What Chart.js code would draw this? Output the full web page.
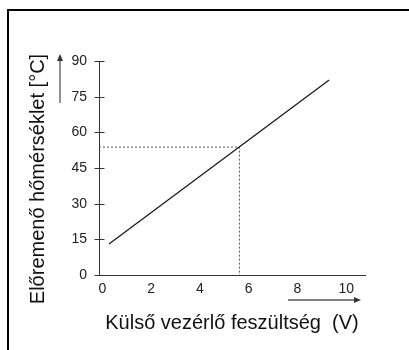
<!DOCTYPE html>
<html>
<head>
<meta charset="utf-8">
<script src="https://cdn.jsdelivr.net/npm/chart.js@4"></script>
<style>
    html, body { margin: 0; padding: 0; background: #fff; }
    #wrap { position: relative; width: 409px; height: 350px; overflow: hidden; }
    #frame {
        position: absolute; left: 7px; top: 9px; right: -5px; bottom: -5px;
        border-left: 2px solid #000; border-top: 2px solid #000;
        pointer-events: none;
    }
</style>
</head>
<body>
<div id="wrap">
    <canvas id="myChart" width="409" height="350"></canvas>
    <div id="frame"></div>
</div>
<script>
// line: supply temperature vs external control voltage
const voltage = [0.27, 9.3];
const temperature = [13, 82];

// dotted reading guide
const markVoltage = 5.62;
const markTemp = 53.8;

const xTicks = [0, 2, 4, 6, 8, 10];
const yTicks = [0, 15, 30, 45, 60, 75, 90];

const xTitle = "Külső vezérlő feszültség  (V)";
const yTitle = "Előremenő hőmérséklet [°C]";

const font = "'Liberation Sans', Arial, sans-serif";

const lineData = voltage.map((v, i) => ({ x: v, y: temperature[i] }));

// extras: crossing y ticks, arrows, rotated y title
const extras = {
    id: "extras",
    afterDraw(chart) {
        const ctx = chart.ctx;
        const xs = chart.scales.x;
        const ys = chart.scales.y;
        ctx.save();

        // y tick marks crossing the axis
        ctx.strokeStyle = "#333";
        ctx.lineWidth = 1;
        const ax = Math.round(xs.left) + 0.5;
        yTicks.forEach(t => {
            const py = Math.round(ys.getPixelForValue(t)) + 0.5;
            ctx.beginPath();
            ctx.moveTo(ax - 5, py);
            ctx.lineTo(ax + 5, py);
            ctx.stroke();
        });

        // arrows
        ctx.strokeStyle = "#555";
        ctx.fillStyle = "#333";
        ctx.lineWidth = 1.3;
        // vertical arrow beside the y title
        ctx.beginPath();
        ctx.moveTo(60, 103);
        ctx.lineTo(60, 58);
        ctx.stroke();
        ctx.beginPath();
        ctx.moveTo(60, 54);
        ctx.lineTo(57, 61);
        ctx.lineTo(63, 61);
        ctx.closePath();
        ctx.fill();
        // horizontal arrow over the x title
        ctx.beginPath();
        ctx.moveTo(288, 300);
        ctx.lineTo(356, 300);
        ctx.stroke();
        ctx.beginPath();
        ctx.moveTo(361, 300);
        ctx.lineTo(354, 297);
        ctx.lineTo(354, 303);
        ctx.closePath();
        ctx.fill();

        // y title
        ctx.translate(38, 179);
        ctx.rotate(-Math.PI / 2);
        ctx.fillStyle = "#111";
        ctx.font = "20px " + font;
        ctx.textAlign = "center";
        ctx.textBaseline = "middle";
        ctx.fillText(yTitle, 0, 0);
        ctx.restore();
    }
};

const config = {
    type: "scatter",
    data: {
        datasets: [
            {
                data: lineData,
                showLine: true,
                borderColor: "#1a1a1a",
                borderWidth: 1.3,
                pointRadius: 0
            },
            {
                data: [
                    { x: -0.14, y: markTemp },
                    { x: markVoltage, y: markTemp },
                    { x: markVoltage, y: 0 }
                ],
                showLine: true,
                borderColor: "#555",
                borderWidth: 1,
                borderDash: [2, 2],
                pointRadius: 0
            }
        ]
    },
    options: {
        responsive: false,
        animation: false,
        layout: {
            padding: { top: 61, right: 44, bottom: 0, left: 0 }
        },
        plugins: {
            legend: { display: false },
            tooltip: { enabled: false }
        },
        scales: {
            x: {
                type: "linear",
                min: -0.14,
                max: 10.77,
                afterBuildTicks: s => { s.ticks = xTicks.map(v => ({ value: v })); },
                afterFit: s => { s.height = 75; },
                grid: { display: false, drawTicks: false },
                border: { display: true, color: "#333", width: 1 },
                ticks: {
                    color: "#222",
                    padding: 6,
                    font: { family: font, size: 14 }
                },
                title: {
                    display: true,
                    text: xTitle,
                    color: "#111",
                    font: { family: font, size: 20, lineHeight: 1.2 },
                    padding: { top: 0, bottom: 15 }
                }
            },
            y: {
                min: 0,
                max: 90,
                afterBuildTicks: s => { s.ticks = yTicks.map(v => ({ value: v })); },
                afterFit: s => { s.width = 99; },
                grid: { display: false, drawTicks: false },
                border: { display: true, color: "#333", width: 1 },
                ticks: {
                    color: "#222",
                    padding: 12,
                    font: { family: font, size: 14 }
                }
            }
        }
    },
    plugins: [extras]
};

const myChart = new Chart(document.getElementById("myChart"), config);
</script>
</body>
</html>
